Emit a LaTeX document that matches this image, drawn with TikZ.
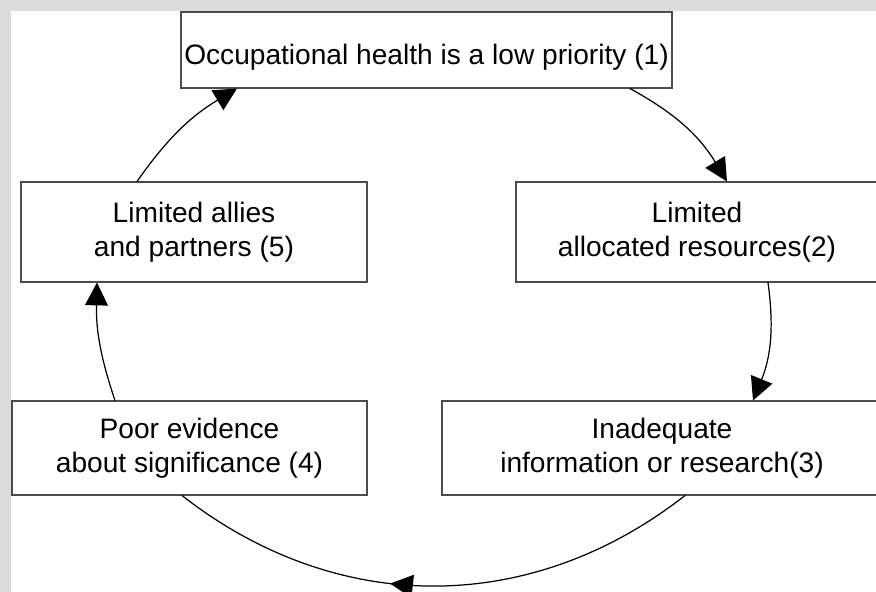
\documentclass[tikz,border=0pt]{standalone}
\usepackage{fontspec}
\setmainfont{Liberation Sans}
\usetikzlibrary{arrows.meta,decorations.markings}
\definecolor{bgray}{HTML}{DCDCDC}
\begin{document}
\begin{tikzpicture}[scale=1,cap=round,>={Triangle[length=13pt,width=13pt]},
	box/.style={draw=black!70, line width=0.6pt, fill=white, align=center,
		inner sep=0pt, font=\fontsize{16}{19.4}\selectfont},
	link/.style={->, line width=0.7pt, bend left=#1},
	midarrow/.style={line width=0.7pt, bend left=38, postaction={decorate},
		decoration={markings, mark=at position 0.58 with {\arrow{Triangle[length=13pt,width=13pt]}}}}]
	\fill [bgray] (0, 0) rectangle (17.52, 11.84);
	\fill [white] (0.22, 0) rectangle (17.52, 11.62);
	\clip (0, 0) rectangle (17.52, 11.84);

	\node [box, minimum width=9.82cm, minimum height=1.52cm, text height=19pt, text depth=3pt]
		(lowp) at (8.53, 10.84) {Occupational health is a low priority (1)};
	\node [box, minimum width=7.24cm, minimum height=2cm] (res) at (13.94, 7.20)
		{Limited\\allocated resources(2)};
	\node [box, minimum width=8.8cm, minimum height=1.88cm] (info) at (13.24, 2.88)
		{Inadequate\\information or research(3)};
	\node [box, minimum width=7.1cm, minimum height=1.88cm] (evid) at (3.79, 2.88)
		{Poor evidence\\about significance (4)};
	\node [box, minimum width=6.92cm, minimum height=2cm] (allies) at (3.88, 7.20)
		{Limited allies\\and partners (5)};

	\draw [link=15] ([xshift=4.07cm]lowp.south) to ([xshift=0.6cm]res.north);
	\draw [link=15] ([xshift=1.42cm]res.south) to ([xshift=1.82cm]info.north);
	\draw [midarrow] ([xshift=0.46cm]info.south) to ([xshift=-0.15cm]evid.south);
	\draw [link=10] ([xshift=-1.49cm]evid.north) to ([xshift=-1.94cm]allies.south);
	\draw [link=12] ([xshift=-1.14cm]allies.north) to ([xshift=-3.79cm]lowp.south);

\end{tikzpicture}
\end{document}
